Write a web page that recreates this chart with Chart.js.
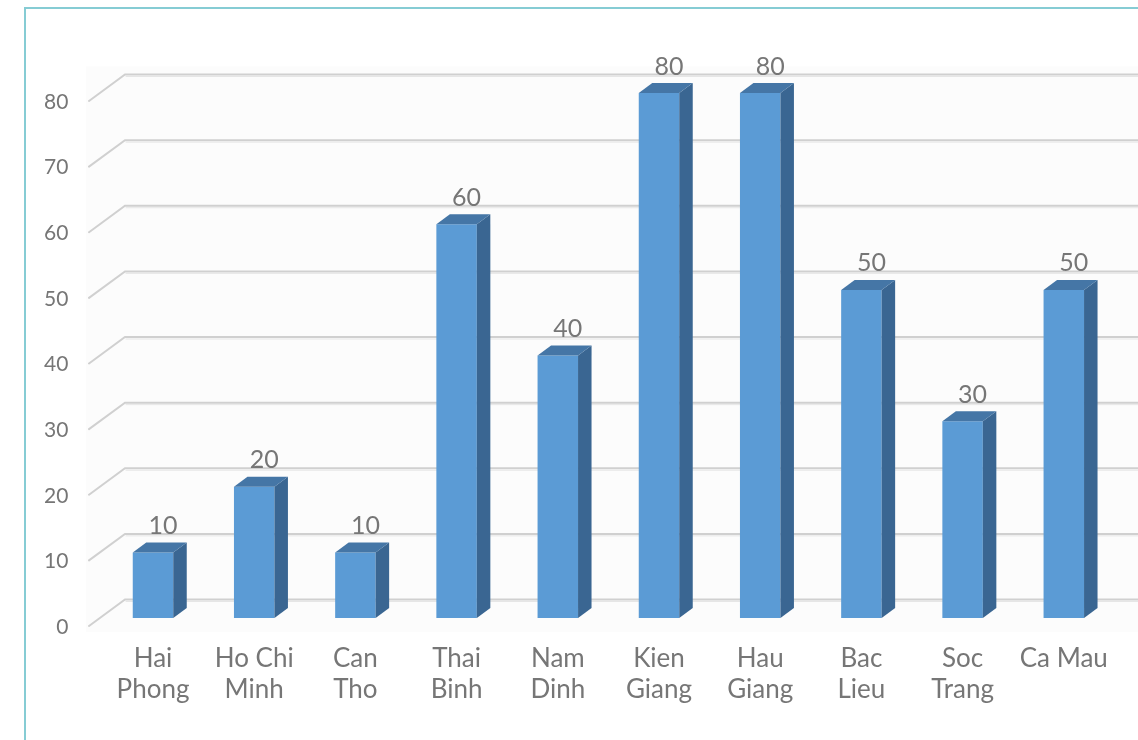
<!DOCTYPE html>
<html><head><meta charset="utf-8">
<script src="https://cdn.jsdelivr.net/npm/chart.js@4"></script>
<style>html,body{margin:0;padding:0;background:#fff;overflow:hidden}</style>
</head><body>
<canvas id="c" width="1138" height="740"></canvas>
<script>
const categories = [["Hai","Phong"],["Ho Chi","Minh"],["Can","Tho"],["Thai","Binh"],["Nam","Dinh"],["Kien","Giang"],["Hau","Giang"],["Bac","Lieu"],["Soc","Trang"],"Ca Mau"];
const values = [10,20,10,60,40,80,80,50,30,50];
const yTicks = [0,10,20,30,40,50,60,70,80];

const depth = {dx:13.5, dy:-10, wallDx:22.6, wallDy:-18.5, tickFrontDx:-13.4, tickFrontDy:8};

const threeD = {
  id:'threeD',
  beforeDraw(chart){
    const ctx=chart.ctx, ca=chart.chartArea, y=chart.scales.y;
    ctx.save();
    ctx.fillStyle='#ffffff'; ctx.fillRect(0,0,chart.width,chart.height);
    // frame
    ctx.strokeStyle='#86CCD4'; ctx.lineWidth=2;
    ctx.strokeRect(25,8,1300,900);
    // plot area faint fill
    const topB=y.getPixelForValue(80)+depth.wallDy, botF=y.getPixelForValue(0)+depth.tickFrontDy;
    ctx.fillStyle='#FCFCFC';
    ctx.fillRect(ca.left+depth.tickFrontDx-3, topB-8, chart.width, botF-topB+14);
    yTicks.forEach(v=>{
      const py=y.getPixelForValue(v);
      const by=py+depth.wallDy, bx=ca.left+depth.wallDx;
      ctx.lineCap='round';
      ctx.strokeStyle='#D0D0D0'; ctx.lineWidth=2;
      ctx.beginPath();
      ctx.moveTo(ca.left+depth.tickFrontDx, py+depth.tickFrontDy);
      ctx.lineTo(bx,by); ctx.lineTo(chart.width,by); ctx.stroke();
      ctx.strokeStyle='#E6E6E6'; ctx.lineWidth=1;
      ctx.beginPath(); ctx.moveTo(bx+1,by+2); ctx.lineTo(chart.width,by+2); ctx.stroke();
    });
    ctx.restore();
  },
  afterDatasetsDraw(chart){
    const ctx=chart.ctx, meta=chart.getDatasetMeta(0);
    ctx.save();
    meta.data.forEach((bar,i)=>{
      const p=bar.getProps(['x','y','base','width'],true);
      const l=p.x-p.width/2, r=p.x+p.width/2, t=p.y, b=p.base;
      ctx.fillStyle='#3A6692';
      ctx.beginPath(); ctx.moveTo(r,t); ctx.lineTo(r+depth.dx,t+depth.dy); ctx.lineTo(r+depth.dx,b+depth.dy); ctx.lineTo(r,b); ctx.closePath(); ctx.fill();
      ctx.fillStyle='#4576A6';
      ctx.beginPath(); ctx.moveTo(l,t); ctx.lineTo(l+depth.dx,t+depth.dy); ctx.lineTo(r+depth.dx,t+depth.dy); ctx.lineTo(r,t); ctx.closePath(); ctx.fill();
      ctx.fillStyle='#767676';
      ctx.font='25px Lato';
      ctx.textAlign='center'; ctx.textBaseline='middle';
      ctx.fillText(String(values[i]), p.x+10, t-26.5);
    });
    ctx.restore();
  }
};

new Chart(document.getElementById('c'),{
  type:'bar',
  data:{labels:categories,datasets:[{data:values,backgroundColor:'#5B9BD5',borderWidth:0,barPercentage:0.4,categoryPercentage:1}]},
  options:{
    responsive:false, animation:false, devicePixelRatio:1,
    layout:{padding:{top:93,bottom:22,left:22.4,right:23.6}},
    plugins:{legend:{display:false},tooltip:{enabled:false}},
    scales:{
      x:{grid:{display:false,drawTicks:false},border:{display:false},
         ticks:{color:'#767676',font:{family:'Lato',size:26},padding:25,maxRotation:0,autoSkip:false},
         afterFit(s){s.height=100;}},
      y:{min:0,max:80,grid:{display:false,drawTicks:false},border:{display:false},
         afterBuildTicks(s){s.ticks=yTicks.map(v=>({value:v}));},
         ticks:{color:'#767676',font:{family:'Lato',size:21},padding:34,labelOffset:9},
         afterFit(s){s.width=80;}}
    }
  },
  plugins:[threeD]
});
</script>
</body></html>
